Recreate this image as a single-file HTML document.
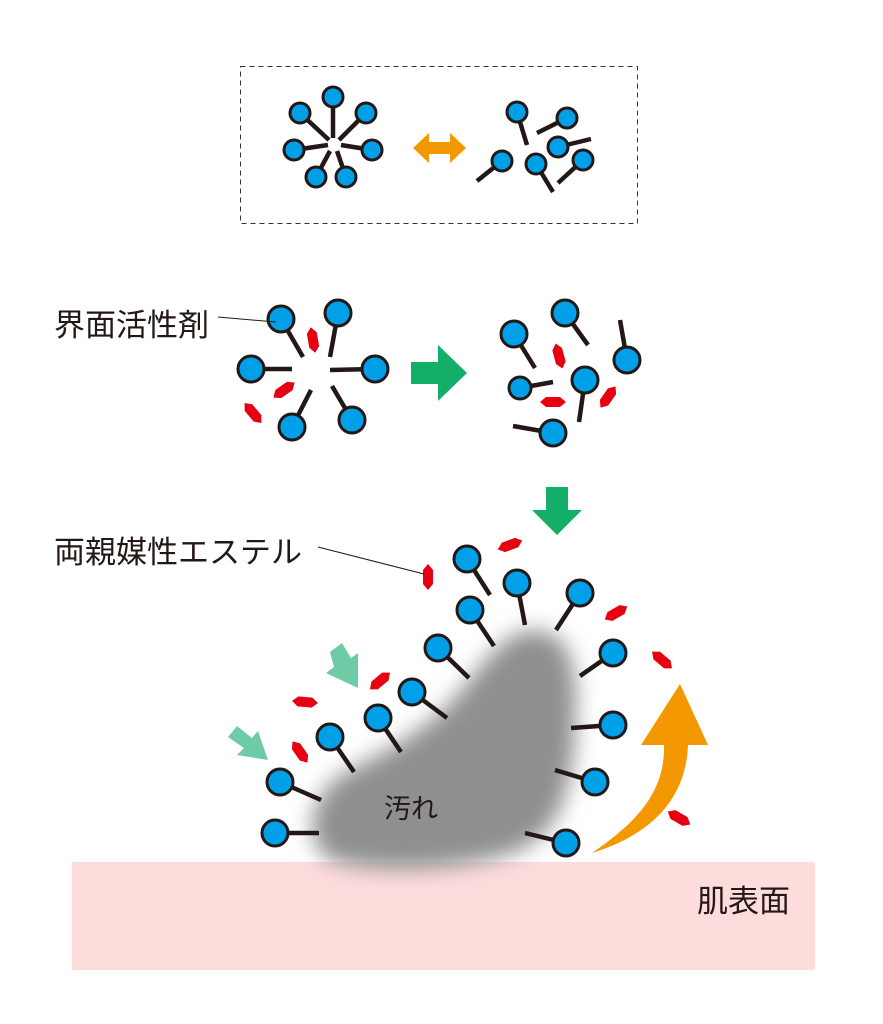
<!DOCTYPE html>
<html><head><meta charset="utf-8"><style>
html,body{margin:0;padding:0;background:#fff}
svg{display:block}
text{font-family:"Liberation Sans","Noto Sans CJK JP",sans-serif;fill:#231815}
</style></head><body>
<svg width="883" height="1024" viewBox="0 0 883 1024" xmlns="http://www.w3.org/2000/svg">
<defs>
<path id="d" d="M-13,0 L-7,-5 L7,-5 L13,0 L7,5 L-7,5Z" fill="#e60012"/>
<filter id="bl" x="-30%" y="-30%" width="160%" height="160%"><feGaussianBlur stdDeviation="11"/></filter>
</defs>
<rect x="72" y="862" width="743" height="108" fill="#fddcdc"/>
<text x="697" y="912" font-size="31">肌表面</text>
<rect x="240.5" y="66.5" width="397" height="157" fill="none" stroke="#333" stroke-width="1" stroke-dasharray="5,4"/>

<path d="M330,860 C300,840 310,790 350,770 C400,745 440,720 470,680 C500,640 520,625 545,632 C575,640 578,680 575,730 C572,790 560,830 520,850 C470,870 380,875 330,860Z" fill="#8f8f8f" filter="url(#bl)"/>
<text x="384" y="818" font-size="27">汚れ</text>

<g stroke="#231815" stroke-width="4.5" stroke-linecap="butt">
<line x1="333" y1="97" x2="333" y2="138"/><line x1="366" y1="113" x2="339" y2="140"/>
<line x1="372" y1="150" x2="341" y2="145"/><line x1="346" y1="177" x2="337" y2="151"/>
<line x1="316" y1="177" x2="330" y2="151"/><line x1="294" y1="150" x2="328" y2="145"/>
<line x1="300" y1="113" x2="329" y2="140"/>
<line x1="517" y1="112" x2="527" y2="145"/><line x1="567" y1="118" x2="537" y2="133"/>
<line x1="558" y1="147" x2="591" y2="139"/><line x1="583" y1="160" x2="558" y2="183"/>
<line x1="536" y1="164" x2="553" y2="192"/><line x1="502" y1="161" x2="477" y2="181"/>
<line x1="281" y1="319" x2="303" y2="357"/><line x1="338" y1="313" x2="330" y2="357"/>
<line x1="375" y1="369" x2="330" y2="370"/><line x1="352" y1="420" x2="332" y2="386"/>
<line x1="292" y1="427" x2="311" y2="390"/><line x1="251" y1="369" x2="292" y2="369"/>
<line x1="514" y1="334" x2="535" y2="368"/><line x1="565" y1="313" x2="588" y2="345"/>
<line x1="627" y1="360" x2="620" y2="320"/><line x1="520" y1="388" x2="553" y2="382"/>
<line x1="585" y1="380" x2="579" y2="422"/><line x1="553" y1="433" x2="513" y2="426"/>
<line x1="467" y1="559" x2="490" y2="595"/><line x1="517" y1="583" x2="525" y2="625"/>
<line x1="580" y1="593" x2="556" y2="630"/><line x1="470" y1="610" x2="494" y2="646"/>
<line x1="438" y1="648" x2="469" y2="678"/><line x1="613" y1="653" x2="580" y2="676"/>
<line x1="412" y1="692" x2="447" y2="718"/><line x1="378" y1="718" x2="401" y2="752"/>
<line x1="613" y1="725" x2="571" y2="728"/><line x1="330" y1="737" x2="354" y2="772"/>
<line x1="595" y1="782" x2="555" y2="770"/><line x1="280" y1="782" x2="321" y2="800"/>
<line x1="566" y1="843" x2="525" y2="833"/><line x1="275" y1="833" x2="319" y2="833"/>
</g>

<g fill="#00a0e9" stroke="#231815" stroke-width="3">
<circle cx="333" cy="97" r="10"/><circle cx="366" cy="113" r="10"/><circle cx="372" cy="150" r="10"/>
<circle cx="346" cy="177" r="10"/><circle cx="316" cy="177" r="10"/><circle cx="294" cy="150" r="10"/>
<circle cx="300" cy="113" r="10"/>
<circle cx="517" cy="112" r="10"/><circle cx="567" cy="118" r="10"/><circle cx="558" cy="147" r="10"/>
<circle cx="583" cy="160" r="10"/><circle cx="536" cy="164" r="10"/><circle cx="502" cy="161" r="10"/>
<circle cx="281" cy="319" r="13"/><circle cx="338" cy="313" r="13"/><circle cx="375" cy="369" r="13"/>
<circle cx="352" cy="420" r="13"/><circle cx="292" cy="427" r="13"/><circle cx="251" cy="369" r="13"/>
<circle cx="514" cy="334" r="13"/><circle cx="565" cy="313" r="13"/><circle cx="627" cy="360" r="13"/>
<circle cx="520" cy="388" r="11"/><circle cx="585" cy="380" r="13"/><circle cx="553" cy="433" r="13"/>
<circle cx="467" cy="559" r="13"/><circle cx="517" cy="583" r="13"/><circle cx="580" cy="593" r="13"/>
<circle cx="470" cy="610" r="13"/><circle cx="438" cy="648" r="13"/><circle cx="613" cy="653" r="13"/>
<circle cx="412" cy="692" r="13"/><circle cx="378" cy="718" r="13"/><circle cx="613" cy="725" r="13"/>
<circle cx="330" cy="737" r="13"/><circle cx="595" cy="782" r="13"/><circle cx="280" cy="782" r="13"/>
<circle cx="566" cy="843" r="13"/><circle cx="275" cy="833" r="13"/>
</g>

<use href="#d" transform="translate(313,340) rotate(80)"/>
<use href="#d" transform="translate(284,390) rotate(-35)"/>
<use href="#d" transform="translate(253,413) rotate(50)"/>
<use href="#d" transform="translate(559,356) rotate(75)"/>
<use href="#d" transform="translate(553,402) rotate(0)"/>
<use href="#d" transform="translate(608,397) rotate(-55)"/>
<use href="#d" transform="translate(510,545) rotate(-20)"/>
<use href="#d" transform="translate(428,577) rotate(90)"/>
<use href="#d" transform="translate(616,613) rotate(-30)"/>
<use href="#d" transform="translate(662,660) rotate(40)"/>
<use href="#d" transform="translate(380,681) rotate(-40)"/>
<use href="#d" transform="translate(305,702) rotate(5)"/>
<use href="#d" transform="translate(300,752) rotate(55)"/>
<use href="#d" transform="translate(679,818) rotate(30)"/>

<path d="M413,148 L429,133 L429,142 L450,142 L450,133 L466,148 L450,163 L450,154 L429,154 L429,163Z" fill="#f39800"/>
<path d="M411,362 L438,362 L438,345 L467,373 L438,401 L438,384 L411,384Z" fill="#13ae67"/>
<path d="M546,487 L568,487 L568,510 L582,510 L557,535 L532,510 L546,510Z" fill="#13ae67"/>
<path d="M330,652 L342,643 L351,658 L358,653 L358,688 L326,673 L334,667Z" fill="#6dcca5"/>
<path d="M228,737 L237,726 L252,738 L258,731 L268,760 L237,755 L244,748Z" fill="#6dcca5"/>
<path d="M592,853 C640,820 665,790 664,745 L641,745 L680,684 L708,745 L688,745 C686,800 650,835 592,853Z" fill="#f39800"/>

<text x="54" y="336" font-size="31">界面活性剤</text>
<line x1="218" y1="317" x2="276" y2="322" stroke="#231815" stroke-width="1"/>
<text x="54" y="563" font-size="31">両親媒性エステル</text>
<line x1="318" y1="547" x2="424" y2="574" stroke="#231815" stroke-width="1"/>
</svg>
</body></html>
